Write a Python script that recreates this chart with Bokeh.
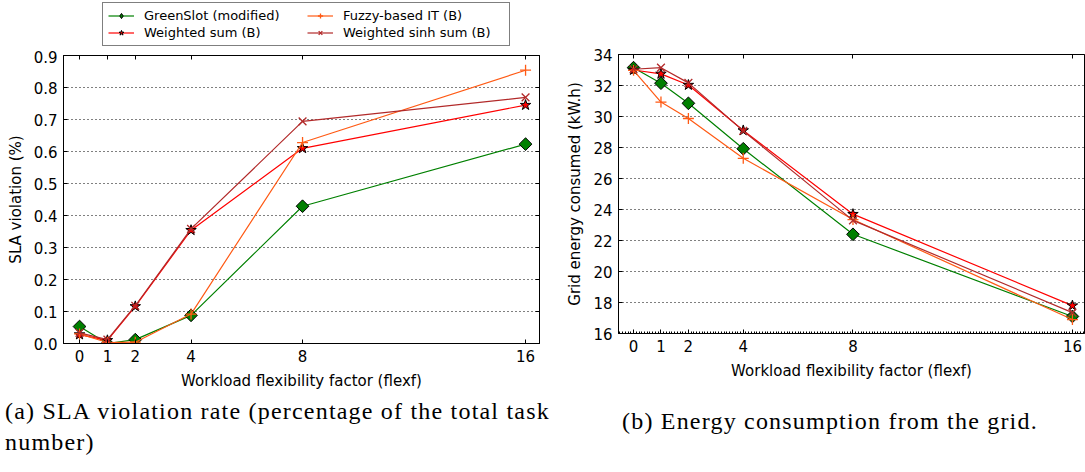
import numpy as np
from bokeh.plotting import figure
from bokeh.models import (Legend, LegendItem, LinearAxis, FixedTicker, Range1d, Div,
                          PrintfTickFormatter, CustomJSTickFormatter)
from bokeh.layouts import row, column
from bokeh.embed import file_html
from bokeh.resources import INLINE

# ---------------- data ----------------
flexf = [0, 1, 2, 4, 8, 16]
series_names = ["GreenSlot (modified)", "Weighted sum (B)", "Fuzzy-based IT (B)", "Weighted sinh sum (B)"]

sla_greenslot = [0.053, 0.0, 0.012, 0.088, 0.429, 0.623]
sla_wsum = [0.028, 0.01, 0.116, 0.354, 0.61, 0.745]
sla_fuzzy = [0.03, 0.003, 0.004, 0.092, 0.628, 0.854]
sla_wsinh = [0.033, 0.012, 0.118, 0.358, 0.694, 0.769]

energy_greenslot = [33.15, 32.15, 30.85, 27.92, 22.4, 17.1]
energy_wsum = [33.0, 32.75, 32.03, 29.1, 23.7, 17.8]
energy_fuzzy = [32.98, 30.93, 29.87, 27.3, 23.35, 16.9]
energy_wsinh = [33.05, 33.15, 32.17, 29.07, 23.3, 17.35]

sla_ticks = [0.0, 0.1, 0.2, 0.3, 0.4, 0.5, 0.6, 0.7, 0.8, 0.9]
energy_ticks = [16, 18, 20, 22, 24, 26, 28, 30, 32, 34]

# ---------------- styles ----------------
FONT = "DejaVu Sans"
COLORS = ["#008000", "#ff0000", "#ff5a14", "#b22a2a"]
MARKERS = [dict(marker="square", angle=np.pi / 4, size=9, fill_color="#008000", line_color="black"),
           dict(marker="star", size=11, fill_color="#ff0000", line_color="black"),
           dict(marker="cross", size=11, line_color="#ff5a14", line_width=1.3),
           dict(marker="x", size=11, line_color="#b22a2a", line_width=1.3)]
LEGEND_MARKERS = [dict(marker="diamond", size=13, fill_color="#008000", line_color="black")] + MARKERS[1:]

EMPTY = CustomJSTickFormatter(code="return ''")


def style_axis(ax, ticks, labels=True, minor=None):
    ax.ticker = FixedTicker(ticks=ticks, minor_ticks=minor or [])
    ax.axis_line_color = "black"
    ax.axis_line_width = 1
    ax.major_tick_in = 4
    ax.major_tick_out = 0
    ax.major_tick_line_color = "black"
    ax.minor_tick_in = 2 if minor else 0
    ax.minor_tick_out = 0
    ax.minor_tick_line_color = "black" if minor else None
    ax.major_label_text_font = FONT
    ax.major_label_text_font_size = "15px"
    ax.major_label_text_color = "black"
    ax.major_label_standoff = 6 if labels else 0
    if not labels:
        ax.formatter = EMPTY
    ax.axis_label_text_font = FONT
    ax.axis_label_text_font_size = "15px"
    ax.axis_label_text_font_style = "normal"
    ax.axis_label_text_color = "black"


def make_fig(width, height, xr, yr, borders, yticks, ylabel, yfmt, minor_x=None, right_axis=True):
    p = figure(width=width, height=height, x_range=Range1d(*xr), y_range=Range1d(*yr),
               output_backend="svg", toolbar_location=None,
               min_border_left=borders[0], min_border_right=borders[1],
               min_border_top=borders[2], min_border_bottom=borders[3],
               background_fill_color="white", border_fill_color="white")
    p.outline_line_color = "black"
    p.outline_line_width = 1
    p.xgrid.visible = False
    p.ygrid.ticker = FixedTicker(ticks=yticks)
    p.ygrid.grid_line_color = "black"
    p.ygrid.grid_line_dash = "1 3"
    p.ygrid.grid_line_width = 1
    style_axis(p.xaxis[0], flexf, minor=minor_x)
    p.xaxis[0].axis_label = "Workload flexibility factor (flexf)"
    p.xaxis[0].axis_label_standoff = 7
    style_axis(p.yaxis[0], yticks)
    p.yaxis[0].axis_label = ylabel
    p.yaxis[0].axis_label_standoff = 6
    p.yaxis[0].formatter = yfmt
    top = LinearAxis()
    style_axis(top, flexf, labels=False)
    p.add_layout(top, "above")
    if right_axis:
        rgt = LinearAxis()
        style_axis(rgt, yticks, labels=False)
        p.add_layout(rgt, "right")
    return p


def draw(p, ys, markers=MARKERS, visible=True):
    items = []
    for name, y, col, mk in zip(series_names, ys, COLORS, markers):
        lr = p.line(flexf, y, line_color=col, line_width=1.2, visible=visible)
        sr = p.scatter(flexf, y, visible=visible, **mk)
        items.append(LegendItem(label=name, renderers=[lr, sr]))
    return items


sla_series = [sla_greenslot, sla_wsum, sla_fuzzy, sla_wsinh]

# ---------------- legend strip (above left plot) ----------------
pl = figure(width=560, height=50, x_range=Range1d(0, 1), y_range=Range1d(0, 1),
            output_backend="svg", toolbar_location=None, x_axis_type=None, y_axis_type=None,
            min_border=0, background_fill_color="white", border_fill_color="white")
pl.outline_line_color = None
pl.grid.visible = False
leg_items = draw(pl, sla_series, markers=LEGEND_MARKERS, visible=False)
legend = Legend(items=leg_items, ncols=2, location=(39, 4),
                label_text_font=FONT, label_text_font_size="13px", label_text_color="black",
                label_height=13, glyph_height=13, glyph_width=26, label_width=161,
                label_standoff=10, spacing=2, padding=5, margin=0,
                border_line_color="black", border_line_width=1.3,
                background_fill_color="white", background_fill_alpha=1,
                inactive_fill_alpha=0)
pl.add_layout(legend)

# ---------------- left: SLA ----------------
p1 = make_fig(560, 346, (-0.575, 16.5), (0, 0.9), (63, 21, 5, 53), sla_ticks,
              "SLA violation (%)", PrintfTickFormatter(format="%.1f"))
draw(p1, sla_series)

# ---------------- right: energy ----------------
p2 = make_fig(525, 396, (-0.548, 16.44), (16, 34), (58, 1, 54, 63), energy_ticks,
              "Grid energy consumed (kW.h)", PrintfTickFormatter(format="%d"),
              minor_x=[round(v, 2) for v in np.arange(-0.5, 16.45, 0.1)], right_axis=False)
draw(p2, [energy_greenslot, energy_wsum, energy_fuzzy, energy_wsinh])

cap_style = {"font-family": "'Liberation Serif', serif", "font-size": "24px",
             "line-height": "31px", "letter-spacing": "1.2px", "color": "black",
             "white-space": "nowrap"}
cap_a = Div(text="(a) SLA violation rate (percentage of the total task<br>number)",
            width=560, height=70, styles=dict(cap_style, **{"padding-left": "5px"}),
            margin=(0, 0, 0, 0))
cap_b = Div(text="(b) Energy consumption from the grid.", width=525, height=70,
            styles=dict(cap_style, **{"padding-left": "62px", "padding-top": "10px"}),
            margin=(0, 0, 0, 0))

layout = row(column(pl, p1, cap_a, spacing=0), column(p2, cap_b, spacing=0), spacing=0)

open("out.html", "w").write(file_html(layout, INLINE))
